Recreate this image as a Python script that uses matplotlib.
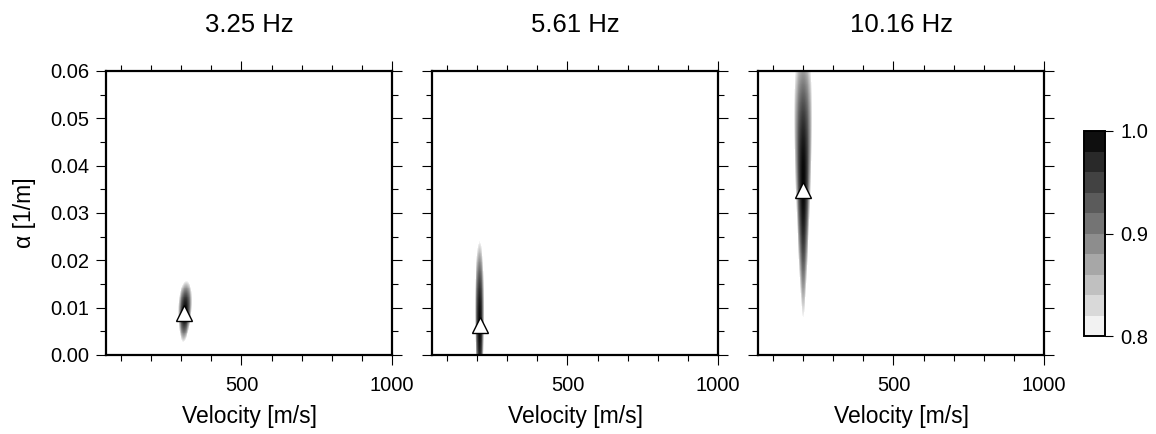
import numpy as np
import matplotlib
matplotlib.use("Agg")
import matplotlib.pyplot as plt
from matplotlib.colors import BoundaryNorm, ListedColormap, LinearSegmentedColormap
from matplotlib.cm import ScalarMappable
from matplotlib.ticker import MultipleLocator, FuncFormatter, FormatStrFormatter

plt.rcParams["font.family"] = ["Liberation Sans", "DejaVu Sans"]

# panel data
freqs = ["3.25 Hz", "5.61 Hz", "10.16 Hz"]
peak_vel = [308, 208, 200]            # triangle (best) velocity [m/s]
peak_alpha = [0.0088, 0.0063, 0.0349]  # triangle (best) alpha [1/m]
# extent of the region above 0.8 (centre and half widths)
blob_vel_center = [312, 208, 200]
blob_alpha_center = [0.0092, 0.0065, 0.037]
vel_half = [22, 15, 26]
alpha_half = [0.0064, 0.0175, 0.029]
vel_growth = [0.2, 0.2, 0.6]
vel_tilt = [5, 0, 0]

cbar_ticks = [0.8, 0.9, 1.0]
n_levels = 10

vel = np.linspace(50, 1000, 951)
alpha = np.linspace(0, 0.06, 601)
V, A = np.meshgrid(vel, alpha)

grays = [str(g) for g in np.linspace(0.95, 0.06, n_levels)]
cbar_cmap = ListedColormap(grays)
img_cmap = LinearSegmentedColormap.from_list("g", ["0.97", "0.03"])
img_cmap.set_under("white")
levels = np.linspace(0.8, 1.0, n_levels + 1)
norm = BoundaryNorm(levels, cbar_cmap.N)

fig = plt.figure(figsize=(11.56, 4.34), dpi=100)
W, H = 1156, 434
lefts = [106, 432, 758]
ax_w, top, bottom = 286, 71, 355

for i in range(3):
    ax = fig.add_axes([lefts[i] / W, 1 - bottom / H, ax_w / W, (bottom - top) / H])
    da = (A - blob_alpha_center[i]) / alpha_half[i]
    sv = vel_half[i] * np.exp(vel_growth[i] * da)
    dv = (V - blob_vel_center[i] - vel_tilt[i] * da) / sv
    Z = 1 - 0.2 * (dv ** 2 + da ** 2)
    ax.pcolormesh(vel, alpha, Z, cmap=img_cmap, vmin=0.8, vmax=1.0,
                  shading="auto", rasterized=True)
    ax.plot(peak_vel[i], peak_alpha[i], marker="^", ms=11, mfc="white",
            mec="black", mew=1.0)
    ax.set_xlim(50, 1000)
    ax.set_ylim(0, 0.06)
    ax.xaxis.set_major_locator(MultipleLocator(500))
    ax.xaxis.set_minor_locator(MultipleLocator(100))
    ax.yaxis.set_major_locator(MultipleLocator(0.01))
    ax.yaxis.set_minor_locator(MultipleLocator(0.005))
    ax.tick_params(which="both", direction="out", top=True, right=True,
                   width=0.8, labelsize=14.5)
    ax.tick_params(which="major", length=7)
    ax.tick_params(which="minor", length=4)
    ax.tick_params(axis="x", which="major", pad=8)
    ax.tick_params(axis="y", which="major", pad=5)
    for s in ax.spines.values():
        s.set_linewidth(1.6)
    ax.xaxis.set_major_formatter(FuncFormatter(
        lambda x, p: f"{x:.0f}" if x > 0 else ""))
    ax.set_xlabel("Velocity [m/s]", fontsize=16.5, labelpad=7)
    ax.set_title(freqs[i], fontsize=18.5, pad=28)
    if i == 0:
        ax.yaxis.set_major_formatter(FormatStrFormatter("%.2f"))
        ax.set_ylabel("α [1/m]", fontsize=16.5, labelpad=10)
    else:
        ax.set_yticklabels([])

cax = fig.add_axes([1084 / W, 1 - 336 / H, 21 / W, 205 / H])
sm = ScalarMappable(norm=norm, cmap=cbar_cmap)
cb = fig.colorbar(sm, cax=cax, ticks=cbar_ticks)
cb.ax.set_yticklabels([f"{t:.1f}" for t in cbar_ticks])
cb.ax.tick_params(labelsize=14.5, length=6, width=0.8, pad=5)
cb.ax.minorticks_off()
cb.outline.set_linewidth(1.4)

fig.savefig("out.png", dpi=100)
